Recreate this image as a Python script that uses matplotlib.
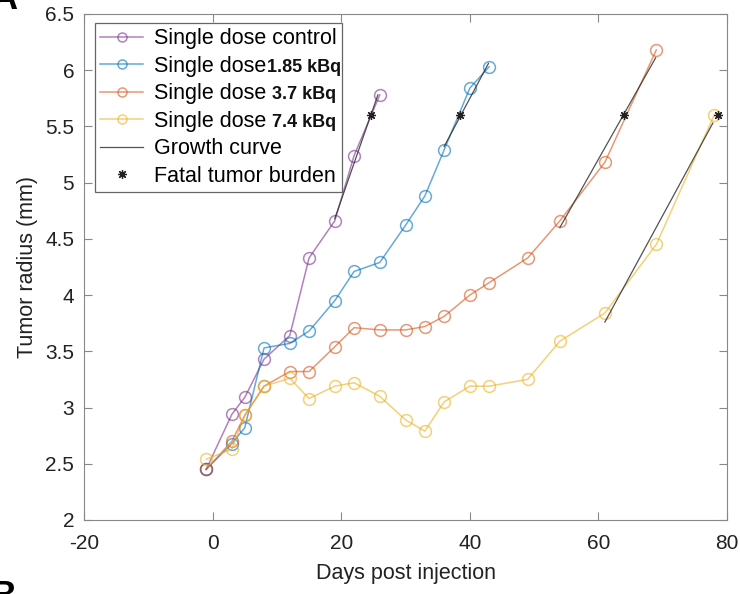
import matplotlib
matplotlib.use("Agg")
import matplotlib.pyplot as plt
from matplotlib.transforms import IdentityTransform
import numpy as np

plt.rcParams['font.family'] = ['Liberation Sans', 'DejaVu Sans']
plt.rcParams['axes.unicode_minus'] = False

# dager etter injeksjon
days = [-1, 3, 5, 8, 12, 15, 19, 22, 26, 30, 33, 36, 40, 43, 49, 54, 61, 69, 78]

control = [2.45, 2.94, 3.09, 3.43, 3.64, 4.33, 4.66, 5.24, 5.78]
dose_185 = [2.45, 2.68, 2.82, 3.53, 3.57, 3.68, 3.95, 4.21, 4.29, 4.62, 4.88,
            5.29, 5.84, 6.03]
dose_37 = [2.45, 2.70, 2.93, 3.19, 3.32, 3.32, 3.54, 3.71, 3.69, 3.69, 3.72,
           3.81, 4.00, 4.11, 4.33, 4.66, 5.18, 6.18]
dose_74 = [2.54, 2.63, 2.93, 3.19, 3.26, 3.08, 3.19, 3.22, 3.10, 2.89, 2.79,
           3.05, 3.19, 3.19, 3.25, 3.59, 3.84, 4.45, 5.60]

# vekstkurver (start, slutt)
growth_x = [[19, 25.7], [36, 42.9], [54, 68.9], [61, 77.8]]
growth_y = [[4.68, 5.78], [5.32, 6.06], [4.60, 6.11], [3.76, 5.53]]

fatal_x = [24.6, 38.5, 63.9, 78.6]
fatal_y = [5.6, 5.6, 5.6, 5.6]

labels = ["Single dose control", "Single dose", "Single dose", "Single dose"]
bold_parts = [None, "1.85 kBq", " 3.7 kBq", " 7.4 kBq"]  # fet skrift i legenden
colors = ["#7E2F8E", "#0072BD", "#D95319", "#EDB120"]

fig = plt.figure(figsize=(7.4, 5.94), dpi=100)
ax = fig.add_axes([0.1135, 0.1246, 0.869, 0.852])

series = [control, dose_185, dose_37, dose_74]
for s, lab, c in zip(series, labels, colors):
    ax.plot(days[:len(s)], s, '-o', color=c, alpha=0.6, lw=1.1,
            mfc='none', ms=8.5, mew=1.1, label=lab)

for i in range(len(growth_x)):
    ax.plot(growth_x[i], growth_y[i], color='#333333', lw=0.9, alpha=0.85,
            label="Growth curve" if i == 0 else None)
ax.plot(fatal_x, fatal_y, marker=(8, 2, 0), color='#222222', ms=6.5, mew=0.9,
        ls='none', label="Fatal tumor burden")

ax.set_xlim(-20, 80)
ax.set_ylim(2, 6.5)
ax.set_xticks(np.arange(-20, 81, 20))
ax.set_yticks(np.arange(2, 6.51, 0.5))
ax.set_yticklabels(["2", "2.5", "3", "3.5", "4", "4.5", "5", "5.5", "6", "6.5"])
ax.tick_params(direction='in', length=6, color='#888888', labelsize=15,
               top=True, right=True, labelcolor='#222222')
ax.tick_params(axis='x', pad=10)
ax.tick_params(axis='y', pad=7)
for sp in ax.spines.values():
    sp.set_color('#888888')
ax.set_xlabel("Days post injection", fontsize=15.5, color='#222222', labelpad=7)
ax.set_ylabel("Tumor radius (mm)", fontsize=15.5, color='#222222', labelpad=5)

leg = ax.legend(loc='upper left', bbox_to_anchor=(0.017, 0.982), fontsize=15.5,
                handlelength=2.0, handletextpad=0.5, labelspacing=0.3,
                borderpad=0.25, borderaxespad=0, fancybox=False, framealpha=1,
                edgecolor='#666666')
leg.get_frame().set_linewidth(0.9)
for h in leg.legend_handles[:4]:
    h.set_markersize(6.5)

# legg til fet, mindre tekst etter "Single dose"
fig.canvas.draw()
renderer = fig.canvas.get_renderer()
for t, extra in zip(leg.get_texts(), bold_parts + [None, None]):
    if extra is None:
        continue
    bb = t.get_window_extent(renderer)
    _, _, d = renderer.get_text_width_height_descent(
        t.get_text(), t.get_fontproperties(), ismath=False)
    fig.text(bb.x1 + 1, bb.y0 + d, extra, fontsize=13, fontweight='bold',
             color='#111111', va='baseline', ha='left',
             transform=IdentityTransform())

# panel-bokstaver som er kuttet i kanten
fig.text(-0.012, 1 - 9 / 594, "A", fontsize=26, fontweight='bold',
         va='baseline', ha='left')
fig.text(-0.012, -0.035, "B", fontsize=26, fontweight='bold',
         va='bottom', ha='left')

plt.savefig("out.png", dpi=100)
